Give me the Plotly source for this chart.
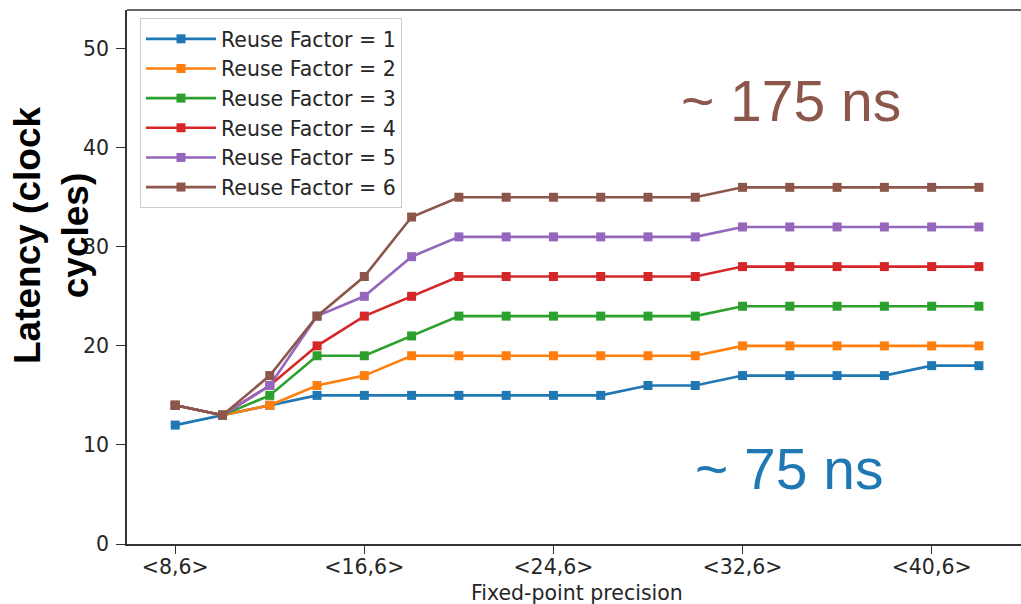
import plotly.graph_objects as go

precision = ["<8,6>", "<10,6>", "<12,6>", "<14,6>", "<16,6>", "<18,6>", "<20,6>",
             "<22,6>", "<24,6>", "<26,6>", "<28,6>", "<30,6>", "<32,6>", "<34,6>",
             "<36,6>", "<38,6>", "<40,6>", "<42,6>"]

rf1 = [12, 13, 14, 15, 15, 15, 15, 15, 15, 15, 16, 16, 17, 17, 17, 17, 18, 18]
rf2 = [14, 13, 14, 16, 17, 19, 19, 19, 19, 19, 19, 19, 20, 20, 20, 20, 20, 20]
rf3 = [14, 13, 15, 19, 19, 21, 23, 23, 23, 23, 23, 23, 24, 24, 24, 24, 24, 24]
rf4 = [14, 13, 16, 20, 23, 25, 27, 27, 27, 27, 27, 27, 28, 28, 28, 28, 28, 28]
rf5 = [14, 13, 16, 23, 25, 29, 31, 31, 31, 31, 31, 31, 32, 32, 32, 32, 32, 32]
rf6 = [14, 13, 17, 23, 27, 33, 35, 35, 35, 35, 35, 35, 36, 36, 36, 36, 36, 36]

series_names = ["Reuse Factor = 1", "Reuse Factor = 2", "Reuse Factor = 3",
                "Reuse Factor = 4", "Reuse Factor = 5", "Reuse Factor = 6"]
series_values = [rf1, rf2, rf3, rf4, rf5, rf6]
colors = ["#1f77b4", "#ff7f0e", "#2ca02c", "#d62728", "#9467bd", "#8c564b"]

tick_labels = ["<8,6>", "<16,6>", "<24,6>", "<32,6>", "<40,6>"]

W, H = 1021, 604
ML, MR, MT, MB = 127, 0, 10, 60
PW, PH = W - ML - MR, H - MT - MB


def px_x(x):
    return (x - ML) / PW


def px_y(y):
    return (H - MB - y) / PH


fig = go.Figure()
for name, vals, col in zip(series_names, series_values, colors):
    fig.add_trace(go.Scatter(
        x=precision, y=vals, name=name, mode="lines+markers",
        line=dict(color=col, width=2.6),
        marker=dict(symbol="square", size=9, color=col),
    ))

tick_font = dict(family="DejaVu Sans", size=20.5, color="#262626")

fig.update_layout(
    width=W, height=H,
    margin=dict(l=ML, r=MR, t=MT, b=MB, autoexpand=False),
    plot_bgcolor="white", paper_bgcolor="white",
    showlegend=True,
    legend=dict(
        x=px_x(140), y=px_y(18), xanchor="left", yanchor="top",
        bgcolor="white", bordercolor="#cccccc", borderwidth=1,
        font=dict(family="DejaVu Sans", size=20.5, color="#262626"),
        itemwidth=70, tracegroupgap=0,
    ),
    xaxis=dict(
        type="category", range=[-1.02, 17.89],
        tickmode="array", tickvals=tick_labels, ticktext=tick_labels,
        ticks="outside", ticklen=8, tickwidth=1.3, tickcolor="#333",
        showline=True, linecolor="#333", linewidth=1.5,
        showgrid=False, zeroline=False,
        tickfont=tick_font, ticklabelstandoff=-4,
    ),
    yaxis=dict(
        range=[0, 53.9], tickvals=[0, 10, 20, 30, 40, 50],
        ticks="outside", ticklen=9, tickwidth=1.3, tickcolor="#333",
        showline=True, linecolor="#333", linewidth=1.5,
        showgrid=False, zeroline=False,
        tickfont=tick_font, ticklabelstandoff=3,
    ),
)

# top spine
fig.add_shape(type="line", xref="paper", yref="paper", x0=0, x1=1, y0=1, y1=1,
              line=dict(color="#333", width=1.5))

fig.add_annotation(
    text="Fixed-point precision", xref="paper", yref="paper",
    x=px_x(577), y=px_y(593), xanchor="center", yanchor="middle",
    showarrow=False, font=tick_font,
)
fig.add_annotation(
    text="<b>Latency (clock<br>cycles)</b>", textangle=-90,
    xref="paper", yref="paper", x=px_x(51), y=px_y(236),
    xanchor="center", yanchor="middle", showarrow=False,
    font=dict(family="Liberation Sans", size=37, color="black"),
)
fig.add_annotation(
    text="~ 175 ns", xref="paper", yref="paper", x=px_x(791), y=px_y(101),
    xanchor="center", yanchor="middle", showarrow=False,
    font=dict(family="Liberation Sans", size=57, color="#8c564b"),
)
fig.add_annotation(
    text="~ 75 ns", xref="paper", yref="paper", x=px_x(789), y=px_y(469),
    xanchor="center", yanchor="middle", showarrow=False,
    font=dict(family="Liberation Sans", size=57, color="#1f77b4"),
)

fig.write_html("out.html")
